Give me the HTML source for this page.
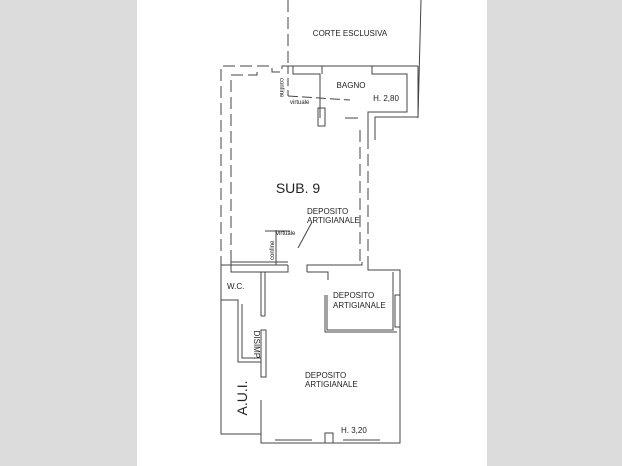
<!DOCTYPE html>
<html><head><style>
html,body{margin:0;padding:0;background:#fff}
body{width:622px;height:466px;overflow:hidden}
svg{display:block}
text{font-family:"Liberation Sans",sans-serif;fill:#222}
</style></head><body>
<svg width="622" height="466" viewBox="0 0 622 466">
<rect x="0" y="0" width="137" height="466" fill="#dcdcdc"/>
<rect x="487" y="0" width="135" height="466" fill="#dcdcdc"/>
<g stroke="#444" stroke-width="1" fill="none">
<line x1="288" y1="0" x2="288" y2="66" stroke-dasharray="12,5"/>
<line x1="421" y1="0" x2="418" y2="118"/>
<line x1="288" y1="66" x2="418" y2="66"/>
<polyline points="221,268 221,66 272,66 272,72 282,72 282,66 288,66" stroke-dasharray="12,5"/>
<polyline points="231,262 231,75 257,75 257,69" stroke-dasharray="12,5"/>
<line x1="288" y1="66" x2="288" y2="96" stroke-dasharray="8,4"/>
<line x1="288" y1="96" x2="350" y2="100" stroke-dasharray="10,4"/>
<line x1="368" y1="120" x2="368" y2="268" stroke-dasharray="12,5"/>
<line x1="360" y1="130" x2="360" y2="262" stroke-dasharray="12,5"/>
<line x1="231" y1="262" x2="288" y2="262"/>
<polyline points="293,66 293,74 320,74 320,118"/>
<polyline points="322,66 322,74"/>
<polyline points="372,66 372,74 407,74 407,112 368,112 368,140"/>
<polyline points="418,66 418,117 375,117 375,140"/>
<rect x="318" y="108" width="7" height="18"/>
<line x1="345" y1="118" x2="358" y2="118"/>
<line x1="221" y1="265" x2="288" y2="265"/>
<polyline points="231,262 231,272 288,272 288,265"/>
<polyline points="307,272 307,265 362,265 362,262"/>
<polyline points="307,272 328,272 328,280"/>
<line x1="276" y1="230" x2="276" y2="265"/>
<line x1="298" y1="248" x2="312" y2="222"/>
<line x1="265" y1="231" x2="290" y2="231"/>
<polyline points="368,268 368,270 400,270 400,443 261,443 261,434 221,434 221,268"/>
<line x1="261" y1="400" x2="261" y2="434"/>
<polyline points="221,300 238,300 238,362 261,362"/>
<polyline points="242,304 242,358 261,358"/>
<line x1="261" y1="272" x2="261" y2="316"/>
<line x1="265" y1="272" x2="265" y2="316"/>
<line x1="261" y1="316" x2="265" y2="316"/>
<rect x="261" y="330" width="5" height="47"/>
<polyline points="327,295 327,330 393,330 393,272"/>
<polyline points="325,295 325,332 397,332"/>
<rect x="395" y="295" width="5" height="32"/>
<line x1="275" y1="440" x2="312" y2="440"/>
<line x1="343" y1="440" x2="380" y2="440"/>
<polyline points="325,443 325,433 333,433 333,443"/>
</g>
<text x="350" y="36" font-size="8" text-anchor="middle">CORTE ESCLUSIVA</text>
<text x="351" y="88" font-size="8" text-anchor="middle">BAGNO</text>
<text x="386" y="101" font-size="8" text-anchor="middle">H. 2,80</text>
<text x="290" y="104" font-size="6">virtuale</text>
<text x="280" y="78" font-size="6" transform="rotate(90 280 78)">confine</text>
<text x="298" y="193" font-size="14" text-anchor="middle">SUB. 9</text>
<text x="307" y="214" font-size="8">DEPOSITO</text>
<text x="307" y="223" font-size="8">ARTIGIANALE</text>
<text x="276" y="235" font-size="6">virtuale</text>
<text x="274" y="260" font-size="6" transform="rotate(-90 274 260)">confine</text>
<text x="227" y="289" font-size="8">W.C.</text>
<text x="333" y="298" font-size="8">DEPOSITO</text>
<text x="333" y="308" font-size="8">ARTIGIANALE</text>
<text x="254" y="345" font-size="8" transform="rotate(90 254 345)" text-anchor="middle">DISIMP.</text>
<text x="305" y="378" font-size="8">DEPOSITO</text>
<text x="305" y="387" font-size="8">ARTIGIANALE</text>
<text x="247" y="398" font-size="14" transform="rotate(-90 247 398)" text-anchor="middle">A.U.I.</text>
<text x="341" y="433" font-size="8">H. 3,20</text>
</svg>
</body></html>
